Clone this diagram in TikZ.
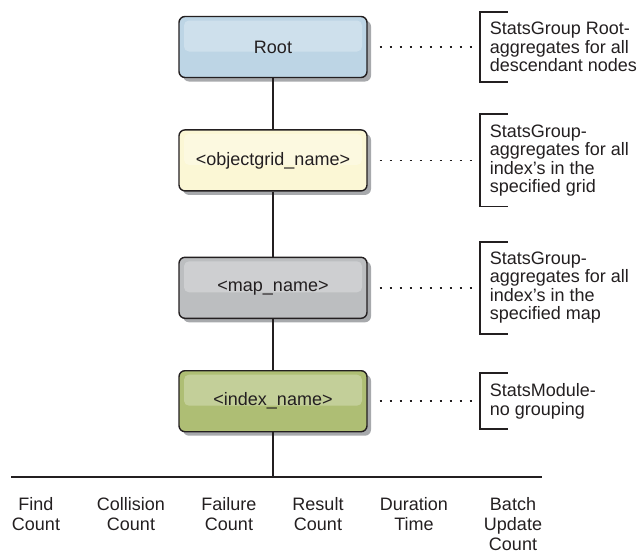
\documentclass[tikz,border=0pt]{standalone}
\usepackage{fontspec}
\setmainfont{Liberation Sans}
\usetikzlibrary{positioning,shadows}

\definecolor{ink}{HTML}{231F20}
\definecolor{shade}{HTML}{A7A9AC}
\definecolor{rootcol}{HTML}{BDD5E5}
\definecolor{gridcol}{HTML}{FBF7D5}
\definecolor{mapcol}{HTML}{BCBEC0}
\definecolor{indexcol}{HTML}{AEBE74}

\tikzset{
  level/.style={draw=ink, line width=1.4pt, rounded corners=6pt,
    minimum width=188pt, minimum height=61pt, text=ink,
    font=\fontsize{18}{21}\selectfont,
    drop shadow={shadow xshift=4pt, shadow yshift=-4pt, fill=shade, opacity=1},
    path picture={\fill[white, opacity=0.27, rounded corners=5pt]
      ([shift={(5pt,-4pt)}]path picture bounding box.north west) rectangle
      ([shift={(-5pt,-35pt)}]path picture bounding box.north east);}},
  note/.style={align=left, anchor=west, inner xsep=10pt, inner ysep=10pt,
    text=ink, font=\fontsize{18}{18.5}\selectfont},
  bracket/.style={draw=ink, line width=1.8pt},
  dots/.style={draw=ink, line width=1.8pt, dash pattern=on 1.8pt off 8.2pt,
    shorten <=12pt},
  metric/.style={align=center, anchor=north, inner sep=0pt, text=ink,
    font=\fontsize{18}{20}\selectfont},
  wire/.style={draw=ink, line width=1.3pt}
}

\begin{document}
\begin{tikzpicture}[x=1pt, y=-1pt]
  \useasboundingbox (0,0) rectangle (643,554);

  % tree of statistics levels
  \node[level, fill=rootcol] (root) at (273,47) {Root};
  \node[level, fill=gridcol] (grid) [below=51pt of root] {<objectgrid\_name>};
  \node[level, fill=mapcol] (map) [below=65pt of grid] {<map\_name>};
  \node[level, fill=indexcol] (index) [below=51pt of map] {<index\_name>};
  \draw[wire] (root) -- (grid);
  \draw[wire] (grid) -- (map);
  \draw[wire] (map) -- (index);

  % notes on the right
  \node[note] (n1) [right=112pt of root] {StatsGroup Root-\\aggregates for all\\descendant nodes};
  \node[note] (n2) [right=112pt of grid] {StatsGroup-\\aggregates for all\\index’s in the\\specified grid};
  \node[note] (n3) [right=112pt of map] {StatsGroup-\\aggregates for all\\index’s in the\\specified map};
  \node[note] (n4) [right=112pt of index] {StatsModule-\\no grouping};
  \foreach \b/\n in {root/n1, grid/n2, map/n3, index/n4} {
    \draw[dots] (\b.east) -- (\n.west);
    \draw[bracket] ([xshift=28pt]\n.north west) -| (\n.south west) -- ([xshift=28pt]\n.south west);
  }

  % statistics under the index
  \coordinate (bl) at (11,477);
  \coordinate (br) at (542,477);
  \draw[draw=ink, line width=1.7pt] (bl) -- (br);
  \draw[wire] (index.south) -- (index.south |- bl);
  \foreach \x/\txt [count=\i] in {36/Find\\Count, 131/Collision\\Count,
      229/Failure\\Count, 318/Result\\Count, 414/Duration\\Time,
      513/Batch\\Update\\Count}
    \node[metric] (m\i) at (\x,497) {\txt};
\end{tikzpicture}
\end{document}
